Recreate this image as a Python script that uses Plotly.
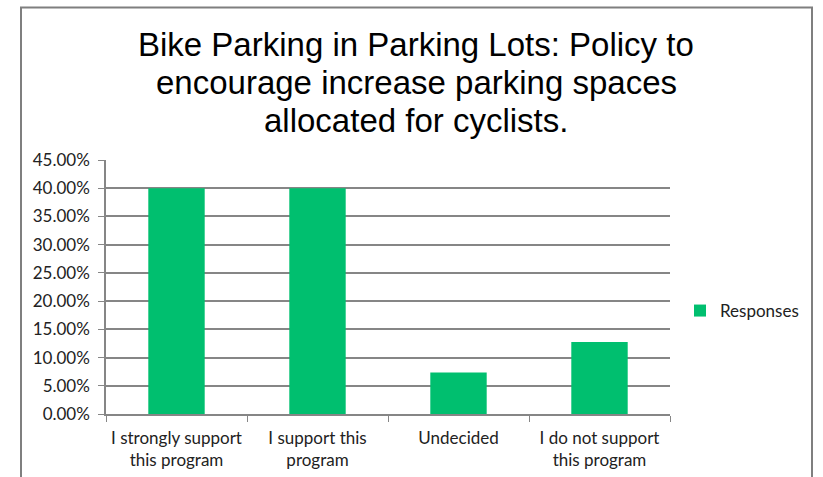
import plotly.graph_objects as go

categories = ["I strongly support<br>this program", "I support this<br>program", "Undecided", "I do not support<br>this program"]
responses = [0.40, 0.40, 0.0735, 0.1275]
series_name = "Responses"
title_lines = ["Bike Parking in Parking Lots: Policy to",
               "encourage increase parking spaces",
               "allocated for cyclists."]

W, H = 823, 477
ml, mr, mt, mb = 106, 153, 160, 63
pw, ph = W - ml - mr, H - mt - mb

fig = go.Figure()
fig.add_trace(go.Bar(
    x=categories, y=responses, name=series_name,
    marker=dict(color="#00BF6F", line=dict(width=0)),
    showlegend=True,
))

axis_font = dict(family="Lato, Calibri, sans-serif", size=17, color="#222222")

# chart-area frame (window pixel coords converted to paper coords)
frame_l, frame_r, frame_t = 21, 812, 7.5
def px_x(x):
    return (x - ml) / pw
def px_y(y):
    return (H - mb - y) / ph

annotations = []
title_centers = [45, 82.5, 120]
for line, yc in zip(title_lines, title_centers):
    annotations.append(dict(
        text=line, xref="paper", yref="paper",
        x=px_x((frame_l + frame_r) / 2), y=px_y(yc),
        xanchor="center", yanchor="middle", showarrow=False,
        font=dict(family="Liberation Sans, Arial, sans-serif", size=33, color="#000000"),
    ))

fig.update_layout(
    width=W, height=H,
    margin=dict(l=ml, r=mr, t=mt, b=mb, autoexpand=False),
    paper_bgcolor="white", plot_bgcolor="white",
    bargap=0.6,
    showlegend=True,
    legend=dict(x=px_x(680), xanchor="left", y=px_y(311), yanchor="middle",
                font=axis_font, bgcolor="rgba(0,0,0,0)", itemwidth=30),
    xaxis=dict(showgrid=False, showline=True, linecolor="#868686", linewidth=1.5,
               ticks="outside", tickson="boundaries", ticklen=6, tickcolor="#868686",
               tickfont=axis_font, tickangle=0, ticklabelstandoff=8),
    yaxis=dict(range=[0, 0.45], dtick=0.05, tickformat=".2%",
               showgrid=True, gridcolor="#868686", gridwidth=1.5,
               showline=True, linecolor="#868686", linewidth=1.5,
               ticks="outside", ticklen=6, tickcolor="#868686",
               tickfont=axis_font, zeroline=False, ticklabelstandoff=5),
    annotations=annotations,
    shapes=[dict(type="rect", xref="paper", yref="paper",
                 x0=px_x(frame_l), x1=px_x(frame_r),
                 y0=px_y(H + 20), y1=px_y(frame_t),
                 line=dict(color="#7F7F7F", width=2), fillcolor="rgba(0,0,0,0)",
                 layer="below")],
)

fig.write_html("out.html", config={"displayModeBar": False},
               post_script="document.body.style.margin='0';")
